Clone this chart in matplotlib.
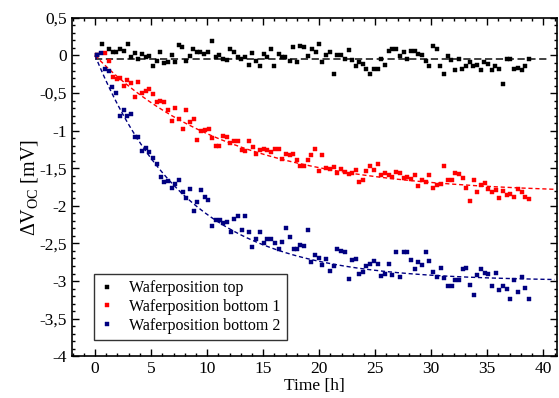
import numpy as np
import matplotlib
matplotlib.use("Agg")
import matplotlib.pyplot as plt
from matplotlib.ticker import MultipleLocator, FuncFormatter

plt.rcParams['font.family'] = ['Liberation Serif', 'DejaVu Serif']
plt.rcParams['mathtext.default'] = 'regular'

# --- data ---
t_top = [0.2, 0.6, 1.22, 1.58, 1.88, 2.23, 2.56, 2.92, 3.19, 3.54, 3.87, 4.22, 4.53, 4.82,
         5.18, 5.54, 5.83, 6.19, 6.52, 6.85, 7.14, 7.47, 7.79, 8.13, 8.46, 8.78, 9.11, 9.40,
         9.76, 10.12, 10.47, 10.78, 11.10, 11.40, 11.76, 12.05, 12.41, 12.71, 13.06, 13.37,
         13.72, 14.04, 14.38, 14.73, 15.03, 15.38, 15.69, 16.01, 16.37, 16.70, 16.99, 17.35,
         17.68, 18.04, 18.30, 18.66, 19.02, 19.35, 19.67, 19.97, 20.29, 20.63, 20.96, 21.28,
         21.61, 21.94, 22.26, 22.62, 22.95, 23.24, 23.57, 23.90, 24.22, 24.55, 24.88, 25.24,
         25.54, 25.87, 26.22, 26.54, 26.88, 27.21, 27.53, 27.86, 28.19, 28.51, 28.84, 29.17,
         29.49, 29.82, 30.15, 30.51, 30.80, 31.13, 31.46, 31.79, 32.12, 32.44, 32.77, 33.10,
         33.42, 33.75, 34.08, 34.40, 34.73, 35.06, 35.38, 35.71, 36.07, 36.40, 36.72, 37.05,
         37.38, 37.74, 38.06, 38.39, 38.72]
dv_top = [0.0, 0.15, 0.09, 0.04, 0.04, 0.09, 0.06, 0.15, -0.02, 0.03, -0.04, 0.02, -0.02, -0.01,
          -0.14, -0.07, 0.04, -0.10, -0.09, 0.0, -0.09, 0.14, 0.11, -0.07, -0.01, 0.09, 0.05, 0.04,
          0.02, 0.05, 0.19, -0.02, 0.0, -0.04, -0.06, 0.08, 0.04, -0.02, -0.04, -0.02,
          -0.12, 0.03, -0.07, -0.14, 0.02, -0.02, 0.09, -0.14, 0.02, -0.02, -0.02, -0.07,
          0.11, -0.09, 0.12, 0.11, -0.01, 0.08, 0.04, 0.15, -0.09, 0.0, 0.04, -0.24,
          0.0, 0.0, -0.04, 0.07, -0.06, -0.14, -0.09, -0.11, -0.18, -0.24, -0.18, -0.18,
          -0.04, -0.13, 0.06, 0.09, 0.08, -0.01, 0.04, -0.04, 0.06, 0.06, 0.02, 0.0,
          -0.07, -0.14, 0.12, 0.09, -0.14, -0.24, -0.01, -0.06, -0.19, -0.04, -0.18, -0.14,
          -0.09, -0.14, -0.13, -0.19, -0.09, -0.11, -0.19, -0.14, -0.18, -0.38, -0.04, -0.04,
          -0.18, -0.16, -0.19, -0.14, -0.04]

t_b1 = [0.2, 0.88, 1.22, 1.56, 1.92, 2.23, 2.54, 2.88, 3.20, 3.54, 3.87, 4.21, 4.53, 4.85,
        5.18, 5.52, 5.83, 6.16, 6.54, 6.85, 7.17, 7.50, 7.83, 8.15, 8.50, 8.82, 9.13, 9.46,
        9.79, 10.13, 10.45, 10.76, 11.09, 11.43, 11.76, 12.08, 12.41, 12.74, 13.08, 13.41,
        13.75, 14.08, 14.40, 14.73, 15.06, 15.38, 15.69, 16.04, 16.37, 16.70, 17.03, 17.35,
        17.68, 18.04, 18.30, 18.66, 18.99, 19.31, 19.64, 19.97, 20.29, 20.63, 20.96, 21.28,
        21.63, 21.94, 22.26, 22.62, 22.95, 23.24, 23.57, 23.90, 24.22, 24.55, 24.91, 25.24,
        25.54, 25.89, 26.22, 26.54, 26.88, 27.17, 27.53, 27.86, 28.19, 28.51, 28.84, 29.17,
        29.49, 29.82, 30.18, 30.51, 30.83, 31.16, 31.49, 31.81, 32.14, 32.47, 32.79, 33.10,
        33.46, 33.78, 34.08, 34.40, 34.76, 35.09, 35.45, 35.74, 36.07, 36.43, 36.72, 37.05,
        37.38, 37.74, 38.06, 38.39, 38.72]
dv_b1 = [0.0, 0.03, -0.07, -0.29, -0.31, -0.30, -0.41, -0.33, -0.37, -0.55, -0.35, -0.50, -0.47, -0.45,
         -0.51, -0.62, -0.60, -0.62, -0.73, -0.87, -0.70, -0.85, -0.98, -0.73, -0.88, -0.84, -1.13, -1.01,
         -0.99, -0.98, -1.10, -1.20, -1.20, -1.07, -1.09, -1.17, -1.14, -1.14, -1.26, -1.27,
         -1.14, -1.22, -1.31, -1.26, -1.25, -1.26, -1.29, -1.24, -1.24, -1.38, -1.31, -1.32,
         -1.31, -1.39, -1.47, -1.47, -1.39, -1.32, -1.25, -1.54, -1.32, -1.49, -1.51, -1.48,
         -1.56, -1.51, -1.55, -1.58, -1.56, -1.52, -1.68, -1.66, -1.54, -1.47, -1.52, -1.44,
         -1.59, -1.56, -1.59, -1.61, -1.55, -1.56, -1.63, -1.61, -1.64, -1.59, -1.73, -1.65,
         -1.68, -1.59, -1.76, -1.72, -1.71, -1.47, -1.66, -1.66, -1.56, -1.58, -1.63, -1.76,
         -1.93, -1.66, -1.82, -1.72, -1.70, -1.78, -1.81, -1.79, -1.89, -1.80, -1.85, -1.84,
         -1.88, -1.78, -1.81, -1.88, -1.91]

t_b2 = [0.21, 0.51, 0.87, 1.22, 1.54, 1.90, 2.23, 2.56, 2.88, 3.19, 3.53, 3.87, 4.20, 4.51,
        4.85, 5.18, 5.54, 5.85, 6.18, 6.52, 6.85, 7.17, 7.48, 7.81, 8.11, 8.46, 8.81, 9.13,
        9.45, 9.79, 10.12, 10.47, 10.76, 11.11, 11.44, 11.78, 12.09, 12.42, 12.75, 13.09,
        13.40, 13.73, 14.04, 14.38, 14.71, 15.04, 15.38, 15.71, 16.04, 16.37, 16.70, 17.01,
        17.35, 17.71, 18.01, 18.32, 18.66, 19.00, 19.31, 19.64, 19.97, 20.29, 20.63, 20.96,
        21.28, 21.63, 21.94, 22.26, 22.62, 22.95, 23.24, 23.57, 23.90, 24.22, 24.55, 24.91,
        25.24, 25.54, 25.89, 26.22, 26.54, 26.88, 27.17, 27.53, 27.86, 28.19, 28.51, 28.84,
        29.17, 29.49, 29.82, 30.18, 30.51, 30.83, 31.16, 31.49, 31.81, 32.14, 32.47, 32.79,
        33.10, 33.46, 33.78, 34.08, 34.40, 34.76, 35.09, 35.45, 35.74, 36.07, 36.43, 36.72,
        37.05, 37.38, 37.74, 38.06, 38.39, 38.72]
dv_b2 = [0.0, 0.03, -0.18, -0.20, -0.42, -0.50, -0.80, -0.73, -0.81, -0.78, -1.09, -1.08, -1.27, -1.23,
         -1.28, -1.36, -1.44, -1.62, -1.68, -1.67, -1.76, -1.71, -1.66, -1.81, -1.90, -1.77, -2.07, -1.95,
         -1.79, -1.88, -1.92, -2.27, -2.19, -2.19, -2.23, -2.22, -2.35, -2.17, -2.13, -2.32,
         -2.14, -2.35, -2.55, -2.44, -2.35, -2.50, -2.44, -2.44, -2.50, -2.58, -2.48, -2.30,
         -2.41, -2.57, -2.57, -2.52, -2.53, -2.32, -2.75, -2.65, -2.70, -2.79, -2.71, -2.86,
         -2.80, -2.58, -2.60, -2.61, -2.97, -2.72, -2.71, -2.91, -2.88, -2.80, -2.78, -2.73,
         -2.77, -2.93, -2.90, -2.77, -2.92, -2.62, -2.94, -2.61, -2.62, -2.72, -2.84, -2.75,
         -2.79, -2.62, -2.73, -2.88, -2.95, -2.82, -2.96, -3.07, -3.06, -2.99, -2.99, -2.84,
         -2.83, -3.05, -3.19, -2.92, -2.84, -2.89, -2.90, -3.06, -2.89, -3.12, -3.06, -3.11,
         -3.24, -2.99, -3.14, -2.95, -3.09, -3.24]

# exponential fit parameters (amplitude in mV, time constant in h)
fit_top_offset = -0.04
fit_b1_amp, fit_b1_tau = 1.84, 12.0
fit_b2_amp, fit_b2_tau = 3.00, 8.2

labels = ["Waferposition top", "Waferposition bottom 1", "Waferposition bottom 2"]
colors = ["#000000", "#ff0000", "#000080"]

fig = plt.figure(figsize=(5.59, 3.98), dpi=100)
ax = fig.add_axes([0.129, 0.105, 0.867, 0.850])

tt = np.linspace(0, 41, 300)
ax.plot([0, 40.5], [fit_top_offset, fit_top_offset], color="#333333", lw=1.3, dashes=(4, 2))
ax.plot(tt, -fit_b1_amp * (1 - np.exp(-tt / fit_b1_tau)), color=colors[1], lw=1.0, dashes=(3, 2))
ax.plot(tt, -fit_b2_amp * (1 - np.exp(-tt / fit_b2_tau)), color=colors[2], lw=1.0, dashes=(3, 2))

for t, v, c, lab in zip([t_top, t_b1, t_b2], [dv_top, dv_b1, dv_b2], colors, labels):
    ax.plot(t, v, ls="none", marker="s", ms=3.4, mec=c, mfc=c, mew=0.3, label=lab)

ax.set_xlim(-2.05, 41.2)
ax.set_ylim(-4, 0.5)
ax.xaxis.set_major_locator(MultipleLocator(5))
ax.xaxis.set_minor_locator(MultipleLocator(1))
ax.yaxis.set_major_locator(MultipleLocator(0.5))
ax.yaxis.set_minor_locator(MultipleLocator(0.1))
fmt = FuncFormatter(lambda v, p: f"{v:g}".replace(".", ","))
ax.yaxis.set_major_formatter(fmt)
ax.xaxis.set_major_formatter(fmt)
ax.tick_params(which="both", direction="in", top=True, right=True, labelsize=12.5, width=1.0)
ax.tick_params(which="major", length=5)
ax.tick_params(which="minor", length=2.5)
for s in ax.spines.values():
    s.set_linewidth(1.2)

ax.set_xlabel("Time [h]", fontsize=12.5, labelpad=1)
ax.set_ylabel("ΔV$_{OC}$ [mV]", fontsize=14.5, labelpad=0)

leg = ax.legend(loc="lower left", bbox_to_anchor=(0.045, 0.047), borderaxespad=0, fontsize=11.5,
                frameon=True, fancybox=False, edgecolor="black", handlelength=0.8,
                handletextpad=1.0, borderpad=0.4, labelspacing=0.18, markerscale=0.9)
leg.get_frame().set_linewidth(1.0)

fig.savefig("out.png", dpi=100)
